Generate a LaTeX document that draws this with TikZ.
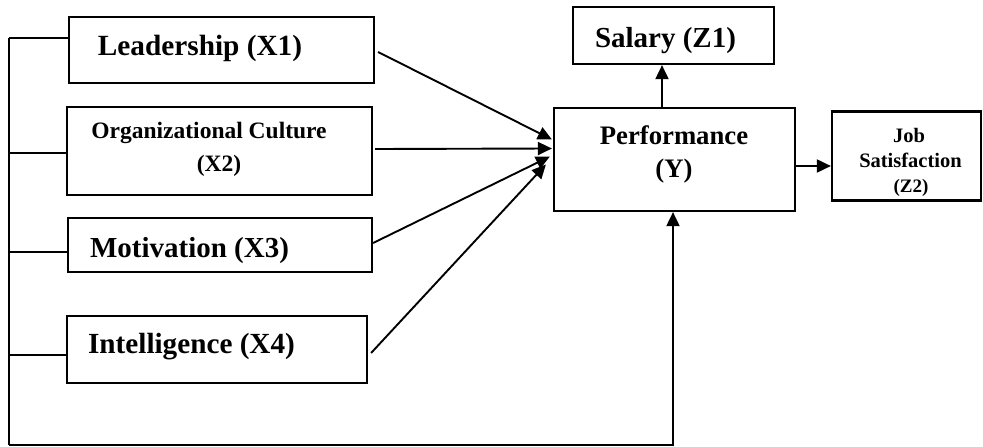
\documentclass[tikz,border=0pt]{standalone}
\usepackage{fontspec}
\setmainfont{Liberation Serif}
\usetikzlibrary{arrows.meta,calc}
\begin{document}
\begin{tikzpicture}[x=1pt,y=-1pt,
  box/.style={draw,line width=2.2pt,inner sep=0pt,rectangle},
  lbl/.style={anchor=base,inner sep=0pt,font=\bfseries},
  conn/.style={line width=1.9pt},
  arr/.style={line width=1.9pt,-{Triangle[length=14pt,width=13pt]}}]
\useasboundingbox (0,0) rectangle (983,447);
% boxes
\node[box,minimum width=305pt,minimum height=66pt] (lead) at (221.5,50) {};
\node[box,minimum width=305pt,minimum height=88pt] (cult) at (219.5,151) {};
\node[box,minimum width=304pt,minimum height=54pt] (motiv) at (220,245) {};
\node[box,minimum width=300pt,minimum height=67pt] (intel) at (217,349.5) {};
\node[box,minimum width=241pt,minimum height=103pt] (perf) at (674.5,159.5) {};
\node[box,minimum width=201pt,minimum height=57pt] (sal) at (673.5,35.5) {};
\node[box,minimum width=149pt,minimum height=89pt] (job) at (906.5,156) {};
% labels
\node[lbl,font=\bfseries\fontsize{29.3}{34}\selectfont] (tlead) at (200,55) {Leadership (X1)};
\node[lbl,font=\bfseries\fontsize{23.5}{28}\selectfont] (tcult1) at (209,138) {Organizational Culture};
\node[lbl,font=\bfseries\fontsize{23.5}{28}\selectfont] (tcult2) at (219,171) {(X2)};
\node[lbl,font=\bfseries\fontsize{29}{34}\selectfont] (tmotiv) at (189.5,257) {Motivation (X3)};
\node[lbl,font=\bfseries\fontsize{29.2}{34}\selectfont] (tintel) at (191.5,353) {Intelligence (X4)};
\node[lbl,font=\bfseries\fontsize{29}{34}\selectfont] (tsal) at (665.5,47) {Salary (Z1)};
\node[lbl,font=\bfseries\fontsize{26.7}{32}\selectfont] (tperf1) at (674,144) {Performance};
\node[lbl,font=\bfseries\fontsize{26.7}{32}\selectfont] (tperf2) at (674,177) {(Y)};
\node[lbl,font=\bfseries\fontsize{20.5}{25}\selectfont] (tjob1) at (909,142) {Job};
\node[lbl,font=\bfseries\fontsize{20.5}{25}\selectfont] (tjob2) at (910.5,167) {Satisfaction};
\node[lbl,font=\bfseries\fontsize{19}{23}\selectfont] (tjob3) at (911,192) {(Z2)};
% bus on the left
\coordinate (b1) at (9,38);
\coordinate (b2) at (9,153);
\coordinate (b3) at (9,252);
\coordinate (b4) at (9,355);
\coordinate (b5) at (9,445);
\draw[conn] (b1) -- (b5);
\draw[conn] (b1) -- (lead.west |- b1);
\draw[conn] (b2) -- (cult.west |- b2);
\draw[conn] (b3) -- (motiv.west |- b3);
\draw[conn] (b4) -- (intel.west |- b4);
\coordinate (bend) at (673,445);
\draw[arr] (b5) -- (bend) -- (bend |- perf.south);
% arrows into performance
\draw[arr] ($(lead.east)+(3,2)$) -- ($(perf.west)+(-1,-20)$);
\draw[arr] ($(cult.east)+(2,-2)$) -- ($(perf.west)+(-1,-11)$);
\draw[arr] ($(motiv.east)+(0,-2)$) -- ($(perf.west)+(-3,-3)$);
\draw[arr] ($(intel.east)+(3,3.5)$) -- ($(perf.west)+(-7,5)$);
% out of performance
\coordinate (ps) at ($(perf.north)+(-12.5,0)$);
\draw[arr] (ps) -- (ps |- sal.south);
\coordinate (pj) at ($(perf.east)+(0,6.5)$);
\draw[arr] (pj) -- (pj -| job.west);
\end{tikzpicture}
\end{document}
